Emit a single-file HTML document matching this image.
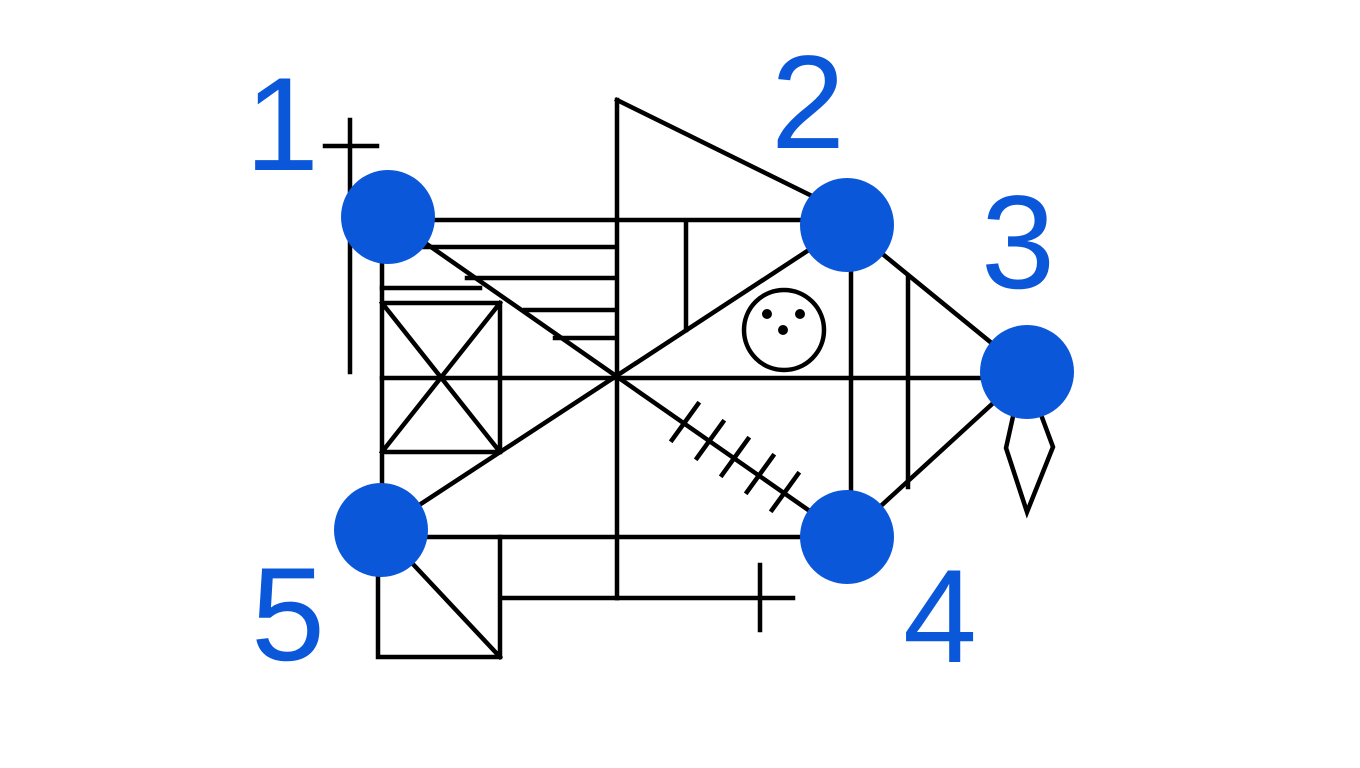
<!DOCTYPE html>
<html><head><meta charset="utf-8"><style>html,body{margin:0;padding:0;background:#fff}svg{display:block}</style></head>
<body>
<svg width="1360" height="768" viewBox="0 0 1360 768">
<g stroke="#000" stroke-width="4.5" fill="none" stroke-linecap="square">
<path d="M350 120V372M325 146H377"/>
<path d="M388 220H847M388 247H615M467 278H615M525 310H615M555 338H615M382 288H480"/>
<path d="M382 217V537M382 303H500V452H382M382 303L500 452M500 303L382 452"/>
<path d="M382 378H1027"/>
<path d="M617 100V598M617 100L810 195"/>
<path d="M388 217L847 537M381 530L847 225"/>
<path d="M686 222V330M851 225V537M908 277V487"/>
<path d="M847 225L1027 372L847 537"/>
<path d="M382 537H847M617 598H793M760 565V630"/>
<path d="M378 537V657H500V537M381 530L500 657M500 598H617"/>
<path d="M1014 412L1006 448L1027 512L1053 447L1040 412" stroke-linejoin="miter"/>
<circle cx="784" cy="330" r="40"/>
<path d="M672 440L698 404M697 458L723 422M722 475L748 439M747 492L773 456M772 510L798 474"/>
</g>
<g fill="#000"><circle cx="767" cy="314" r="5"/><circle cx="800" cy="314" r="5"/><circle cx="783" cy="330" r="5"/></g>
<g fill="#0b57d9">
<circle cx="388" cy="217" r="47"/>
<circle cx="847" cy="225" r="47"/>
<circle cx="1027" cy="372" r="47"/>
<circle cx="847" cy="537" r="47"/>
<circle cx="381" cy="530" r="47"/>
</g>
<g fill="#0b57d9" font-family="Liberation Sans, sans-serif" font-size="133" text-anchor="middle">
<text x="282" y="170">1</text>
<text x="808" y="148">2</text>
<text x="1018" y="288">3</text>
<text x="940" y="662">4</text>
<text x="288" y="660">5</text>
</g>
</svg>
</body></html>
